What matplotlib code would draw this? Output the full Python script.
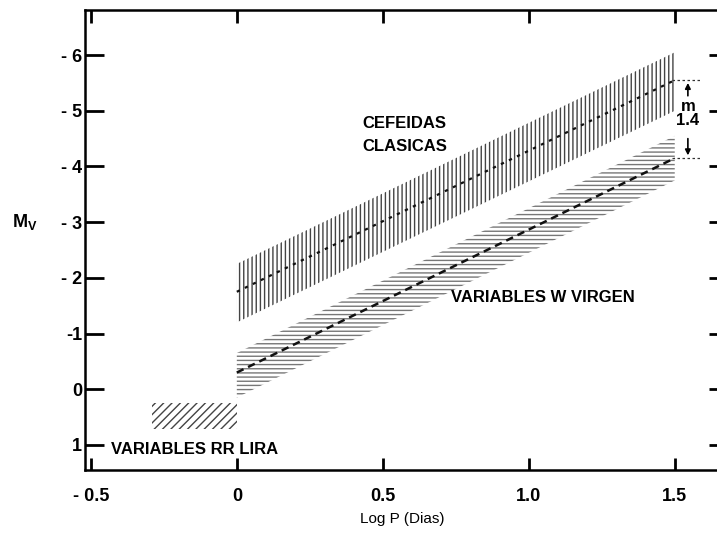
import matplotlib
matplotlib.use("Agg")
import matplotlib.pyplot as plt
import numpy as np

# ---- data ----
cef_x = [0.0, 1.5]
cef_upper = [-2.25, -6.05]
cef_lower = [-1.2, -5.0]
cef_center = [-1.75, -5.55]

wv_x = [0.0, 1.5]
wv_upper = [-0.65, -4.55]
wv_lower = [0.15, -3.75]
wv_center = [-0.3, -4.15]

rr_x = [-0.29, 0.0]
rr_upper = [0.25, 0.25]
rr_lower = [0.72, 0.72]

x_ticks = [-0.5, 0.0, 0.5, 1.0, 1.5]
x_ticklabels = ["- 0.5", "0", "0.5", "1.0", "1.5"]
y_ticks = [-6, -5, -4, -3, -2, -1, 0, 1]
y_ticklabels = ["- 6", "- 5", "- 4", "- 3", "- 2", "-1", "0", "1"]

gap_top = -5.55
gap_bottom = -4.15
gap_label = "m\n1.4"

FONT = ["Liberation Sans", "DejaVu Sans"]
plt.rcParams["font.family"] = FONT
plt.rcParams["hatch.linewidth"] = 1.0

fig = plt.figure(figsize=(7.17, 5.34), dpi=100)
ax = fig.add_axes([85 / 717, 1 - 470 / 534, (720 - 85) / 717, (470 - 10) / 534])
ax.set_xlim(-0.52, 1.655)
ax.set_ylim(1.45, -6.81)

# bands
ax.fill_between(cef_x, cef_upper, cef_lower, facecolor="none", edgecolor="#444444",
                hatch="||||", linewidth=0)
ax.plot(cef_x, cef_center, color="#111111", lw=1.6, ls=(0, (1.5, 2.5)))

ax.fill_between(wv_x, wv_upper, wv_lower, facecolor="none", edgecolor="#777777",
                hatch="----", linewidth=0)
ax.plot(wv_x, wv_center, color="#111111", lw=1.8, ls=(0, (3, 2)))

ax.fill_between(rr_x, rr_upper, rr_lower, facecolor="none", edgecolor="#444444",
                hatch="////", linewidth=0)

# spines & ticks
for s in ax.spines.values():
    s.set_linewidth(1.8)
ax.spines["right"].set_visible(False)

ax.set_xticks(x_ticks)
ax.set_xticklabels(x_ticklabels)
ax.set_yticks(y_ticks)
ax.set_yticklabels(y_ticklabels)
ax.tick_params(axis="x", direction="in", length=9, width=2, top=True, bottom=True,
               labelsize=13, pad=13)
ax.tick_params(axis="y", direction="in", length=14, width=2, left=True, right=False,
               labelsize=13, pad=2)
for lab in ax.get_xticklabels() + ax.get_yticklabels():
    lab.set_fontweight("bold")

# right side ticks (spine itself lies just off the picture)
ax2 = ax.twinx()
ax2.set_ylim(ax.get_ylim())
ax2.set_yticks(y_ticks)
ax2.set_yticklabels([])
ax2.tick_params(axis="y", direction="in", length=8, width=2, right=True)
for s in ax2.spines.values():
    s.set_visible(False)

ax.set_xlabel("Log P (Dias)", fontsize=11, labelpad=5)
fig.text(12 / 717, 1 - 222 / 534, r"M$_\mathregular{V}$", fontsize=13,
         fontweight="bold", va="center", ha="left")

# annotations
ax.text(0.43, -4.78, "CEFEIDAS", fontsize=12, fontweight="bold", va="center", ha="left")
ax.text(0.43, -4.35, "CLASICAS", fontsize=12, fontweight="bold", va="center", ha="left")
ax.text(0.735, -1.65, "VARIABLES W VIRGEN", fontsize=12, fontweight="bold",
        va="center", ha="left")
ax.text(-0.43, 1.09, "VARIABLES RR LIRA", fontsize=12, fontweight="bold",
        va="center", ha="left")

bx = 1.545
ax.plot([1.49, 1.59], [gap_top, gap_top], color="#333333", lw=0.9, ls=(0, (2, 2)))
ax.plot([1.49, 1.59], [gap_bottom, gap_bottom], color="#333333", lw=0.9, ls=(0, (2, 2)))
ax.annotate("", xy=(bx, gap_top), xytext=(bx, -5.22),
            arrowprops=dict(arrowstyle="-|>", color="black", lw=1.2, mutation_scale=8))
ax.annotate("", xy=(bx, gap_bottom), xytext=(bx, -4.55),
            arrowprops=dict(arrowstyle="-|>", color="black", lw=1.2, mutation_scale=8))
ax.text(bx, -4.95, gap_label, fontsize=12, fontweight="bold", ha="center", va="center",
        linespacing=0.9)

fig.savefig("out.png", dpi=100)
